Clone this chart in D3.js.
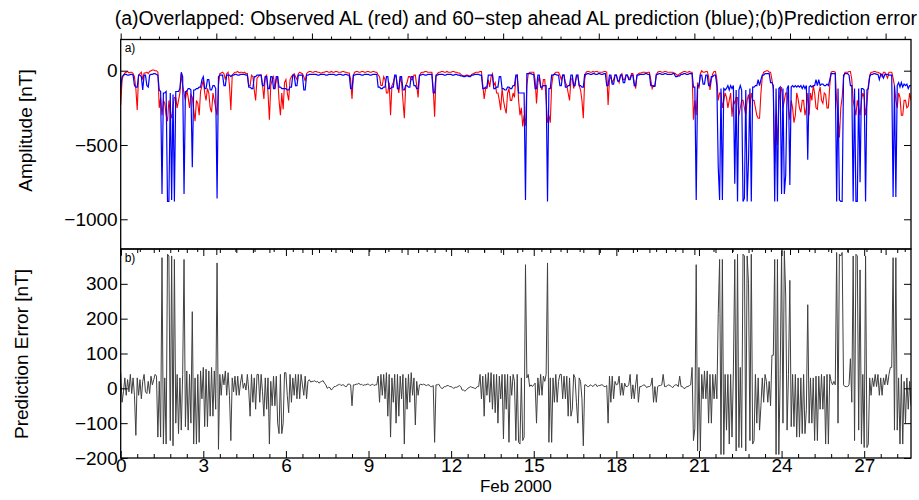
<!DOCTYPE html>
<html>
<head>
<meta charset="utf-8">
<script src="https://cdn.jsdelivr.net/npm/d3@7"></script>
<style>
  body { margin: 0; background: #fff; }
  svg { font-family: "Liberation Sans", Arial, Helvetica, sans-serif; }
</style>
</head>
<body>
<div id="chart"></div>
<script>
const dayStep = 0.05;

// observed AL index [nT]
const observedAL = [
  -230, -60, -30, -15, -10, -5, -15, -10, -10, -20, -40, -120, -265, -30, -20, -10, -60, -15, -15, -10,
  -20, -5, 0, 5, 5, 0, 0, -10, -250, -180, -300, -200, -220, -300, -340, -200, -280, -320, -240, -180,
  -180, -250, -200, -150, -20, -100, -150, -200, -130, -180, -250, -160, -180, -260, -340, -200, -220, -300, -140, -100,
  -60, -150, -200, -120, -150, -250, -280, -150, -200, -250, -300, -100, -20, -15, -10, -20, -60, -20, -10, -100,
  -265, -30, -20, -10, -10, -5, -15, -10, -10, -15, -10, -20, -20, -100, -100, -30, -40, -130, -200, -50,
  -40, -30, -30, -100, -190, -40, -30, -150, -330, -100, -60, -40, -120, -60, -40, -200, -300, -150, -260, -80,
  -60, -150, -200, -60, -40, -30, -20, -40, -60, -20, -10, -15, -20, -40, -70, -20, -10, -5, -5, -10,
  -10, -5, -5, -10, -10, -15, -15, -10, -10, -5, -5, -10, -10, -5, -10, -10, -5, -5, -10, -10,
  -10, -5, -5, -10, -10, -15, -15, -60, -190, -30, -10, -5, -5, -10, -10, -5, -5, -10, -10, -5,
  -5, -10, -10, -5, -5, -10, -10, -30, -40, -100, -100, -40, -60, -150, -150, -80, -300, -100, -80, -40,
  -40, -100, -150, -40, -80, -200, -320, -100, -80, -40, -40, -60, -60, -30, -30, -100, -180, -40, -15, -10,
  -10, -5, -5, -10, -10, -10, -10, -120, -310, -40, -20, -10, -10, -5, -5, -10, -10, -5, -10, -10,
  -10, -5, -5, -10, -10, -15, -15, -25, -30, -35, -35, -30, -30, -35, -35, -25, -20, -15, -10, -10,
  -10, -5, -5, -100, -190, -120, -120, -60, -110, -40, -20, -100, -80, -150, -150, -200, -265, -120, -200, -250,
  -287, -150, -120, -200, -200, -150, -180, -40, -30, -200, -300, -250, -375, -300, -370, -100, -20, -10, -10, -10,
  -10, -60, -220, -80, -40, -100, -130, -60, -60, -200, -350, -300, -350, -100, -30, -20, -10, -10, -10, -30,
  -60, -30, -30, -80, -100, -150, -200, -60, -50, -120, -80, -40, -30, -100, -130, -200, -320, -60, -10, -5,
  -5, -10, -10, -5, -10, -5, -5, -10, -10, -10, -10, -5, -5, -10, -230, -60, -40, -80, -60, -30,
  -30, -60, -80, -30, -20, -60, -60, -30, -30, -50, -50, -20, -20, -80, -120, -30, -20, -15, -15, -10,
  -10, -10, -15, -10, -10, -60, -120, -100, -100, -30, -10, -5, -5, -10, -10, -5, -5, -10, -10, -10,
  -10, -10, -15, -20, -30, -30, -20, -15, -10, -5, -5, -10, -10, -5, -10, -10, -330, -200, -300, -80,
  -120, -20, 0, -10, -10, -5, -5, -40, -130, -60, -20, -5, -5, -60, -200, -150, -150, -250, -200, -150,
  -180, -250, -200, -150, -310, -200, -220, -180, -180, -300, -250, -200, -200, -250, -300, -200, -160, -250, -150, -200,
  -200, -250, -300, -320, -320, -150, -40, -10, -5, 0, 0, -10, -10, -60, -130, -620, -300, -500, -200, -150,
  -110, -250, -200, -150, -150, -250, -330, -200, -250, -350, -300, -150, -190, -250, -280, -200, -200, -300, -250, -150,
  -300, -150, -200, -100, -150, -250, -260, -150, -110, -200, -220, -150, -160, -250, -250, -100, -10, -5, -5, -10,
  -200, -300, -450, -250, -180, -50, -10, -10, -10, -5, -5, -60, -200, -250, -300, -200, -250, -300, -200, -150,
  -180, -300, -220, -100, -30, -10, -10, -5, -5, -10, -10, -15, -20, -40, -10, -10, -30, -50, -10, -10,
  -10, -50, -100, -200, -250, -150, -180, -300, -300, -200, -200, -250, -240, -150, -200
];

// 60-step ahead AL prediction [nT]
const predictedAL = [
  -120, -40, -30, -25, -25, -30, -30, -25, -25, -30, -100, -110, -110, -30, -30, -40, -130, -30, -30, -100,
  -110, -30, -25, -25, -20, -20, -25, -30, -130, -140, -830, -150, -150, -140, -880, -880, -150, -870, -160, -880,
  -140, -140, -140, -120, -10, -40, -830, -140, -140, -120, -120, -130, -650, -130, -130, -120, -120, -110, -110, -60,
  -40, -120, -120, -60, -60, -130, -130, -100, -100, -120, -860, -40, -30, -30, -30, -100, -100, -30, -30, -30,
  -40, -30, -30, -25, -25, -30, -30, -25, -25, -25, -25, -30, -30, -110, -110, -120, -120, -40, -40, -30,
  -30, -30, -30, -100, -100, -40, -40, -120, -120, -40, -40, -120, -120, -40, -40, -110, -110, -120, -120, -120,
  -120, -130, -130, -110, -110, -30, -30, -100, -100, -30, -30, -30, -30, -130, -130, -30, -30, -25, -25, -25,
  -25, -25, -25, -30, -30, -25, -25, -25, -25, -30, -30, -25, -25, -25, -25, -25, -30, -30, -25, -25,
  -25, -30, -30, -25, -25, -30, -30, -120, -120, -30, -30, -25, -25, -25, -25, -30, -30, -25, -25, -25,
  -25, -30, -30, -25, -25, -25, -25, -110, -110, -120, -120, -110, -110, -40, -40, -120, -120, -110, -110, -30,
  -30, -120, -120, -40, -40, -130, -130, -100, -100, -110, -110, -40, -40, -100, -100, -120, -120, -30, -30, -25,
  -25, -30, -30, -25, -25, -25, -25, -150, -150, -30, -30, -25, -25, -25, -25, -30, -30, -25, -25, -25,
  -25, -30, -30, -25, -25, -30, -30, -35, -35, -40, -40, -35, -35, -40, -40, -30, -30, -25, -25, -25,
  -25, -30, -30, -120, -120, -110, -110, -30, -30, -30, -30, -120, -120, -110, -110, -40, -40, -120, -120, -130,
  -130, -110, -110, -120, -120, -100, -100, -30, -30, -150, -150, -150, -150, -150, -870, -20, -20, -20, -20, -25,
  -25, -120, -120, -30, -30, -110, -110, -100, -100, -100, -880, -120, -120, -30, -30, -25, -25, -30, -30, -100,
  -100, -30, -30, -110, -110, -100, -100, -30, -30, -100, -100, -30, -30, -100, -100, -110, -110, -25, -25, -20,
  -20, -25, -25, -20, -20, -25, -25, -20, -20, -25, -25, -20, -20, -100, -100, -30, -30, -90, -90, -30,
  -30, -70, -70, -30, -30, -80, -80, -30, -30, -60, -60, -30, -30, -100, -100, -30, -30, -25, -25, -25,
  -25, -20, -20, -25, -25, -100, -100, -105, -105, -25, -25, -20, -20, -25, -25, -20, -20, -25, -25, -25,
  -25, -20, -20, -40, -40, -35, -35, -25, -25, -20, -20, -25, -25, -20, -20, -20, -110, -110, -870, -100,
  -100, -30, -30, -90, -90, -30, -30, -100, -100, -40, -40, -30, -30, -100, -650, -870, -120, -870, -120, -130,
  -120, -100, -130, -100, -120, -100, -760, -130, -880, -130, -100, -130, -880, -860, -130, -880, -600, -120, -880, -110,
  -110, -100, -100, -60, -100, -60, -30, -30, -20, -20, -20, -20, -80, -80, -100, -880, -120, -880, -120, -110,
  -830, -120, -830, -700, -120, -100, -770, -110, -100, -110, -100, -110, -100, -110, -100, -120, -100, -120, -100, -600,
  -110, -100, -110, -100, -100, -60, -100, -60, -100, -90, -90, -100, -100, -90, -100, -60, -20, -20, -20, -20,
  -880, -120, -870, -880, -880, -30, -20, -20, -20, -30, -100, -100, -880, -120, -880, -880, -120, -750, -120, -120,
  -130, -880, -130, -120, -40, -25, -25, -20, -20, -25, -25, -60, -25, -25, -50, -25, -25, -25, -30, -30,
  -30, -850, -100, -850, -100, -80, -110, -80, -110, -90, -100, -90, -120, -100, -100
];

// prediction error [nT]
const predictionError = [
  45, -40, -10, 30, -20, 25, -10, 40, -15, 30, -20, -135, 30, -20, 25, -30, 20, 40, -10, -15,
  20, -15, 35, 10, 25, 40, 35, -140, 20, -140, 375, -160, 30, -160, 385, 380, -150, 380, -165, 370,
  -100, 40, -130, 30, -120, 40, 370, -110, 50, -120, 40, -100, 220, -160, 30, -160, 40, -155, 50, -30,
  60, -110, 55, -110, 50, -80, 60, -80, 50, -60, 360, -175, 40, -20, 40, 10, 50, -20, 45, -20,
  -150, 30, -10, 35, -20, 35, -20, 15, 40, 0, 15, -5, 40, -5, -80, 40, -40, 30, -60, 40,
  40, -40, 40, -10, -80, 30, -60, 30, -160, 20, -50, 35, -50, 35, -100, -130, 40, -130, -100, 45,
  45, -20, -70, 40, -40, 30, -20, 40, -30, 40, -30, 40, 10, -20, 35, -30, 20, 25, 18, 20,
  20, 22, 18, 20, 15, 18, 20, 22, 15, 10, 0, 3, 2, -5, 0, 5, 5, 8, 10, 12,
  8, 10, 10, 5, 5, 12, 12, 10, -50, 10, 10, 12, 12, 15, 10, 12, 8, 10, 10, 12,
  12, 8, 10, 12, 8, 10, 10, 35, -40, 40, -20, 40, -30, 45, -80, 40, -140, 30, -40, 40,
  -100, 40, -80, 35, -30, 40, -160, 30, -60, 40, -40, 45, -20, 30, -105, 20, -20, 10, 12, 10,
  12, 10, 8, 10, 10, 5, 5, 8, -155, 10, 10, 12, 5, 0, 0, 5, 5, 8, 8, 5,
  5, 2, 0, 3, 3, 5, 8, 5, -5, -5, -8, -5, 0, 2, 5, 3, 2, 0, 0, 5,
  5, 40, -30, 35, -80, 40, -20, 45, -40, 45, -60, 40, -70, 40, -100, 35, -30, 40, -145, 40,
  -60, 40, -155, 35, -20, 40, 20, -150, 40, -155, -160, 30, -150, -140, 355, 30, 40, 5, 10, 5,
  10, 15, -100, 30, -20, 40, -20, 35, 20, 40, 360, -155, 30, -155, 30, -40, 40, -40, 20, 40,
  40, -30, 35, -30, 35, -80, 30, -80, -60, 40, 30, -40, -100, 30, 20, -30, -165, 10, 10, 5,
  5, 10, 8, 5, 10, 12, 5, 8, 8, 10, 10, 5, 5, 8, -100, 35, -40, 35, -30, 20,
  10, 12, 35, -20, 15, -20, 15, 5, 5, 10, 40, -30, 10, -30, 10, 40, -40, 5, 5, 8,
  10, 8, 2, 5, 5, 8, 30, -40, 5, -40, 5, 8, 8, 10, 40, 5, 5, 8, 10, 8,
  5, 2, 8, 10, 10, 5, 35, 5, 5, 0, 0, 5, 5, 8, 10, 60, -150, -115, 355, -180,
  60, -180, 40, -30, 50, -30, 50, -100, 40, -100, 40, -30, 40, -30, 215, 370, -190, 370, -190, 40,
  -120, 40, -160, 40, -140, 50, 370, -180, 385, -170, 60, -170, 385, 380, -180, 380, 300, -150, 385, -160,
  -150, 40, -100, 30, -120, -50, 30, -40, 40, 20, -40, 20, -50, 95, 95, 370, -190, 370, -190, 40,
  395, -100, 395, 265, -120, 40, 310, -110, 40, -110, 40, -140, 30, -140, 30, -130, 40, -130, -60, 240,
  -100, 30, -100, 30, -150, 35, -150, 35, -60, 40, -60, 35, -160, 40, -160, 40, 20, 10, 20, 10,
  390, -100, 385, 380, 390, 10, 5, 5, 5, 10, 85, -40, 380, -150, 385, 380, -120, 340, -160, 40,
  -170, 380, -170, -160, 30, -20, 30, 5, 40, 5, 40, -20, 30, -20, 30, 10, 40, 10, 40, 60,
  60, 375, -120, 375, -120, 30, -160, 40, -160, 20, -100, 30, -60, 20, -50
];

const topYTicks = [0, -500, -1000];
const bottomYTicks = [-200, -100, 0, 100, 200, 300];
const dayTicks = [0, 3, 6, 9, 12, 15, 18, 21, 24, 27];

const W = 919, H = 500;
const left = 120.7, right = 911, top1 = 39.5, mid = 249, bottom2 = 458;
const lastDay = 28.7;

const svg = d3.select("#chart").append("svg")
  .attr("width", W).attr("height", H);

// scales
const x = d3.scaleLinear().domain([0, lastDay]).range([left, right]);
const xMin = d3.scaleLinear().domain([0, lastDay * 1440]).range([left, right]); // minutes, top panel ticks
const yTop = d3.scaleLinear().domain([-1200, 210]).range([mid, top1]);
const yBot = d3.scaleLinear().domain([-200, 400]).range([bottom2, mid]);

svg.append("clipPath").attr("id", "clipTop")
  .append("rect").attr("x", left).attr("y", top1).attr("width", right - left).attr("height", mid - top1);
svg.append("clipPath").attr("id", "clipBot")
  .append("rect").attr("x", left).attr("y", mid).attr("width", right - left).attr("height", bottom2 - mid);

// top panel lines
const lineTop = d3.line().x((d, i) => x(i * dayStep)).y(d => yTop(d));
svg.append("path").datum(observedAL)
  .attr("clip-path", "url(#clipTop)")
  .attr("d", lineTop).attr("fill", "none")
  .attr("stroke", "#ff0000").attr("stroke-width", 1.1);
svg.append("path").datum(predictedAL)
  .attr("clip-path", "url(#clipTop)")
  .attr("d", lineTop).attr("fill", "none")
  .attr("stroke", "#0000ff").attr("stroke-width", 1.2);

// bottom panel line
const lineBot = d3.line().x((d, i) => x(i * dayStep)).y(d => yBot(d));
svg.append("path").datum(predictionError)
  .attr("clip-path", "url(#clipBot)")
  .attr("d", lineBot).attr("fill", "none")
  .attr("stroke", "#404040").attr("stroke-width", 1);

// axes, ticks point inward (matlab style)
function noLabels(ax) { return ax.tickFormat(""); }

function styleAxis(g) {
  g.select(".domain").remove();
  g.selectAll(".tick line").attr("stroke", "#000");
  g.selectAll("text").attr("fill", "#000").style("font-size", "19px");
}

// top panel: minute ticks on top and bottom edges
const minMajor = d3.range(0, lastDay * 1440, 5000);
const minMinor = d3.range(0, lastDay * 1440, 1000).filter(v => v % 5000 !== 0);
[[top1, d3.axisBottom], [mid, d3.axisTop]].forEach(([yy, fn]) => {
  svg.append("g").attr("transform", `translate(0,${yy})`)
    .call(noLabels(fn(xMin).tickValues(minMajor).tickSize(-6))).call(styleAxis);
  svg.append("g").attr("transform", `translate(0,${yy})`)
    .call(noLabels(fn(xMin).tickValues(minMinor).tickSize(-3))).call(styleAxis);
});

// bottom panel: day ticks
const dayMinor = d3.range(0, lastDay, 0.6).filter(v => Math.abs(v / 3 - Math.round(v / 3)) > 0.01);
svg.append("g").attr("transform", `translate(0,${bottom2})`)
  .call(d3.axisBottom(x).tickValues(dayTicks).tickSize(-7).tickPadding(0).tickFormat(d3.format("d")))
  .call(styleAxis);
svg.append("g").attr("transform", `translate(0,${bottom2})`)
  .call(noLabels(d3.axisBottom(x).tickValues(dayMinor).tickSize(-4))).call(styleAxis);
svg.append("g").attr("transform", `translate(0,${mid})`)
  .call(noLabels(d3.axisTop(x).tickValues(dayTicks).tickSize(-7))).call(styleAxis);
svg.append("g").attr("transform", `translate(0,${mid})`)
  .call(noLabels(d3.axisTop(x).tickValues(dayMinor).tickSize(-4))).call(styleAxis);

// y axes
svg.append("g").attr("transform", `translate(${left},0)`)
  .call(d3.axisLeft(yTop).tickValues(topYTicks).tickSize(-7).tickPadding(3).tickFormat(d3.format("d")))
  .call(styleAxis);
svg.append("g").attr("transform", `translate(${right},0)`)
  .call(noLabels(d3.axisRight(yTop).tickValues(topYTicks).tickSize(-7))).call(styleAxis);
svg.append("g").attr("transform", `translate(${left},0)`)
  .call(d3.axisLeft(yBot).tickValues(bottomYTicks).tickSize(-7).tickPadding(3).tickFormat(d3.format("d")))
  .call(styleAxis);
svg.append("g").attr("transform", `translate(${right},0)`)
  .call(noLabels(d3.axisRight(yBot).tickValues(bottomYTicks).tickSize(-7))).call(styleAxis);

// panel boxes
[[top1, mid], [mid, bottom2]].forEach(([a, b]) => {
  svg.append("rect").attr("x", left).attr("y", a)
    .attr("width", right - left).attr("height", b - a)
    .attr("fill", "none").attr("stroke", "#000").attr("stroke-width", 1.3);
});

// panel tags
svg.append("text").attr("x", left + 4).attr("y", top1 + 12)
  .style("font-size", "12px").text("a)");
svg.append("text").attr("x", left + 4).attr("y", mid + 13)
  .style("font-size", "12px").text("b)");

// title
svg.append("text")
  .attr("x", (left + right) / 2).attr("y", 25)
  .attr("text-anchor", "middle")
  .style("font-size", "19.5px")
  .text("(a)Overlapped: Observed AL (red) and 60\u2212step ahead AL prediction (blue);(b)Prediction error");

// axis titles
svg.append("text")
  .attr("transform", "translate(32,130.5) rotate(-90)")
  .attr("text-anchor", "middle")
  .style("font-size", "19px")
  .text("Amplitude [nT]");
svg.append("text")
  .attr("transform", "translate(28,354) rotate(-90)")
  .attr("text-anchor", "middle")
  .style("font-size", "19px")
  .text("Prediction Error [nT]");
svg.append("text")
  .attr("x", (left + right) / 2).attr("y", 492)
  .attr("text-anchor", "middle")
  .style("font-size", "17px")
  .text("Feb 2000");
</script>
</body>
</html>
